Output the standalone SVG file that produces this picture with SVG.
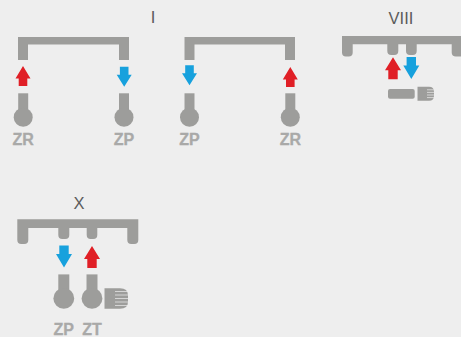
<svg xmlns="http://www.w3.org/2000/svg" width="461" height="337" viewBox="0 0 461 337">
<defs>
<style>
.g{fill:#9d9d9b}
.t{font-family:"Liberation Sans",Arial,sans-serif;font-size:16.500px;fill:#5c5c5c;text-anchor:middle}
.l{font-family:"Liberation Sans",Arial,sans-serif;font-size:16px;font-weight:700;fill:#a9a9a8;stroke:#a9a9a8;stroke-width:.3;text-anchor:middle}
.f{stroke:#eeeeee;stroke-width:.7;fill:none}
</style>
<path id="up" d="M0 0L7.500 12.500H4.300V20H-4.300V12.500H-7.500Z" fill="#e01f26"/>
<path id="dn" d="M-4.300 0H4.300V8H7.500L0 20L-7.500 8H-4.300Z" fill="#17a1dd"/>
<path id="upL" d="M0 0L8 13H4.700V22H-4.700V13H-8Z" fill="#e01f26"/>
<path id="dnL" d="M-4.700 0H4.700V8.500H8L0 22L-8 8.500H-4.700Z" fill="#17a1dd"/>
<g id="sn"><rect x="-5" y="0" width="10" height="20" class="g"/><circle cx="0" cy="24" r="9.500" class="g"/></g>
<g id="snL"><rect x="-5.500" y="0" width="11" height="20" class="g"/><circle cx="0" cy="24" r="10.400" class="g"/></g>
</defs>
<rect width="461" height="337" fill="#eeeeee"/>
<g id="connectors">
<use href="#up" x="23" y="66"/><use href="#dn" x="124.200" y="66.700"/>
<use href="#dn" x="189.500" y="65.300"/><use href="#up" x="290.300" y="67"/>
<use href="#upL" x="393" y="57.300"/><use href="#dnL" x="411.300" y="57"/>
<use href="#dnL" x="64" y="245.500"/><use href="#upL" x="92" y="246"/>
</g>
<g id="node-I-a">
<text class="t" x="153" y="23">I</text>
<path class="g" d="M18 37H129V60H119V44.500H28V60H18Z"/>
<use href="#sn" x="23.200" y="93.300"/><text class="l" x="23.200" y="145">ZR</text>
<use href="#sn" x="124" y="93.300"/><text class="l" x="124" y="145">ZP</text>
</g>
<g id="node-I-b">
<path class="g" d="M184.500 37H295V60H285V44.500H194.500V60H184.500Z"/>
<use href="#sn" x="189.500" y="93.300"/><text class="l" x="189.500" y="145">ZP</text>
<use href="#sn" x="290.300" y="93.300"/><text class="l" x="290.300" y="145">ZR</text>
</g>
<g id="node-VIII">
<text class="t" x="401" y="24">VIII</text>
<path class="g" d="M342 36H461V56.500H456Q451.700 56.500 451.700 52.500V44.300H416.700V51Q416.700 55 412.700 55H410Q406 55 406 51V44.300H398.300V51Q398.300 55 394.300 55H391.300Q387.300 55 387.300 51V44.300H352.700V52.500Q352.700 56.500 348.700 56.500H346Q342 56.500 342 52.500Z"/>
<rect class="g" x="388" y="89" width="26.700" height="9.700" rx="2"/>
<path class="g" d="M417.500 86.700H429Q434 86.700 434 91.700V95.700Q434 100.700 429 100.700H417.500Z"/>
<path class="f" d="M427 89.800H434M427 92.400H434M427 95H434M427 97.600H434"/>
</g>
<g id="node-X">
<text class="t" x="79" y="209">X</text>
<path class="g" d="M17.300 219.300H138.300V240Q138.300 244 134.300 244H131.300Q127.300 244 127.300 240V228H97.300V235Q97.300 239 93.300 239H90.700Q86.700 239 86.700 235V228H69.300V235Q69.300 239 65.300 239H62.300Q58.300 239 58.300 235V228H28.300V240Q28.300 244 24.300 244H21.300Q17.300 244 17.300 240Z"/>
<use href="#snL" x="63.800" y="274.400"/><text class="l" x="63.800" y="335">ZP</text>
<use href="#snL" x="92" y="274.400"/><text class="l" x="92" y="335">ZT</text>
<path class="g" d="M104.500 288.300H120Q128 288.300 128 295.300V301.700Q128 308.700 120 308.700H104.500Z"/>
<path class="f" d="M115 291.500H128M115 295H128M115 298.500H128M115 302H128M115 305.500H128"/>
</g>
</svg>
